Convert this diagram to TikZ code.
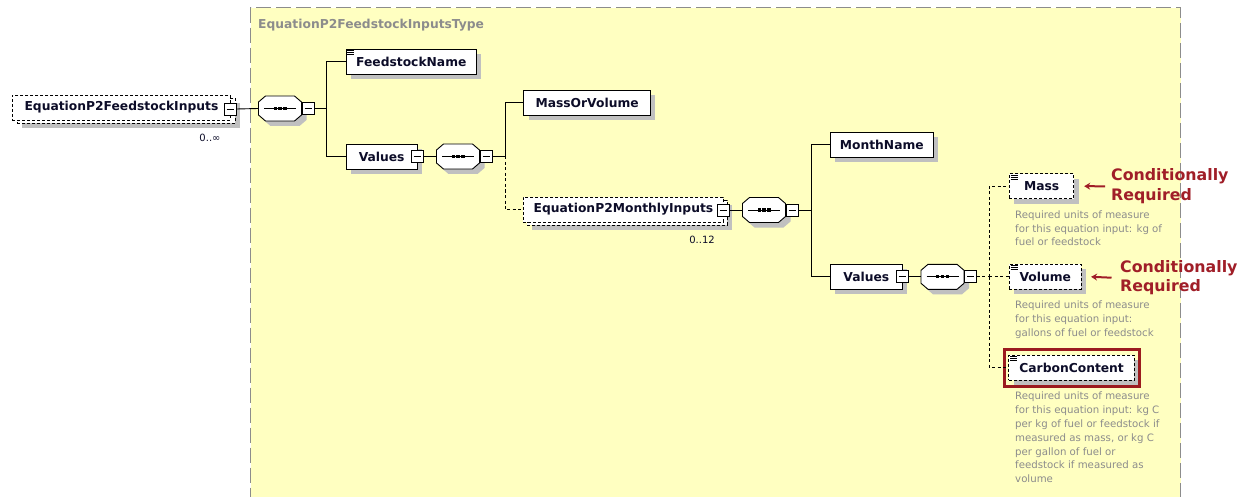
\documentclass[tikz,border=0pt]{standalone}
\usepackage{fontspec}
\setmainfont{DejaVu Sans}
\usetikzlibrary{shadows,arrows.meta}

\definecolor{typefill}{RGB}{255,255,193}
\definecolor{typeedge}{RGB}{140,140,140}
\definecolor{shadowgray}{RGB}{192,192,192}
\definecolor{descgray}{RGB}{140,140,140}
\definecolor{notered}{RGB}{160,30,40}
\definecolor{markred}{RGB}{155,27,31}
\definecolor{ink}{RGB}{12,12,40}

\newcommand\namefont{\bfseries\fontsize{12.3}{14}\selectfont}
\newcommand\descfont{\fontsize{10.2}{13.8}\selectfont}
\newcommand\notefont{\bfseries\fontsize{15.8}{19.5}\selectfont}

\tikzset{
  conn/.style={line width=0.9pt},
  optconn/.style={line width=0.9pt, dash pattern=on 3pt off 2.5pt},
  elem/.style={draw, fill=white, line width=0.9pt, inner sep=0pt,
    minimum height=25pt, anchor=west, font=\namefont, text=ink,
    general shadow={fill=shadowgray, shadow xshift=5pt, shadow yshift=-5pt}},
  optelem/.style={elem, dash pattern=on 3pt off 2pt},
  frontelem/.style={draw, fill=white, line width=0.9pt, inner sep=0pt,
    minimum height=25pt, anchor=west, font=\namefont, text=ink,
    dash pattern=on 3pt off 2pt},
  minusbox/.style={draw, fill=white, line width=0.8pt, minimum size=12pt,
    inner sep=0pt, path picture={\draw[line width=0.8pt]
      ([xshift=2.5pt]path picture bounding box.west) --
      ([xshift=-2.5pt]path picture bounding box.east);}},
  seqnode/.style={rectangle, minimum width=43pt, minimum height=25pt, inner sep=0pt},
  typebox/.style={draw=typeedge, fill=typefill, line width=1.4pt,
    dash pattern=on 15pt off 5pt, anchor=north west, inner sep=0pt},
  typelabel/.style={anchor=west, inner sep=0pt, font=\namefont, text=typeedge},
  desctext/.style={anchor=north west, inner sep=0pt, align=left,
    font=\descfont, text=descgray},
  notetext/.style={anchor=west, inner sep=0pt, align=left,
    font=\notefont, text=notered},
  notearrow/.style={draw=notered, line width=2pt, -{Stealth[length=6pt,width=7pt]}},
  occurs/.style={inner sep=0pt, font=\fontsize{10}{12}\selectfont, text=ink},
}

% sequence compositor: octagon with shadow, dotted bar, and its collapse box
\newcommand\seqsym[3]{%
  \begin{scope}[shift={(#2+5,#3+5)}]
    \fill[shadowgray] (-14.5,-12.5) -- (14.5,-12.5) -- (21.5,-6.5) -- (21.5,6.5)
      -- (14.5,12.5) -- (-14.5,12.5) -- (-21.5,6.5) -- (-21.5,-6.5) -- cycle;
  \end{scope}
  \begin{scope}[shift={(#2,#3)}]
    \draw[fill=white, line width=0.9pt] (-14.5,-12.5) -- (14.5,-12.5) -- (21.5,-6.5)
      -- (21.5,6.5) -- (14.5,12.5) -- (-14.5,12.5) -- (-21.5,6.5) -- (-21.5,-6.5) -- cycle;
    \draw[line width=1pt] (-16,0) -- (16,0);
    \fill (-6.5,-1.6) rectangle (-3.3,1.6);
    \fill (-1.6,-1.6) rectangle (1.6,1.6);
    \fill (3.3,-1.6) rectangle (6.5,1.6);
  \end{scope}
  \node[seqnode] (#1) at (#2,#3) {};
  \node[minusbox] (#1m) at (#2+28,#3) {};
}

% small "simple content" glyph on the upper left corner of an element
\newcommand\simpleicon[1]{%
  \foreach \dy in {2,4,6}
    \draw[line width=0.8pt] ([shift={(1.5,\dy)}]#1.north west) -- ++(7,0);
}

\begin{document}
\begin{tikzpicture}[x=1pt, y=-1pt]
\useasboundingbox (0,0) rectangle (1249,497);
\clip (0,0) rectangle (1249,497);
\fill[white] (0,0) rectangle (1249,497);

% complex type container
\node[typebox, minimum width=930pt, minimum height=520pt] (type) at (250,7) {};
\node[typelabel] (typename) at (258,25) {EquationP2FeedstockInputsType};

% root element (repeating, optional)
\node[optelem, minimum width=218pt, text=white] (rootback) at (17,110.5) {};
\node[frontelem, minimum width=218pt] (root) at (12,107.5) {EquationP2FeedstockInputs};
\node[minusbox] (rootm) at (230,109) {};
\node[occurs] (rootocc) at (210,137.5) {0..∞};

\seqsym{s1}{280}{108.5}
\coordinate (j1) at (326,108.5);

\node[elem, minimum width=130.3pt] (fname) at (345.7,61.5) {FeedstockName};
\simpleicon{fname}
\node[elem, minimum width=71pt] (val1) at (345.7,156.5) {Values\hspace{4pt}};
\node[minusbox] (val1m) at (417,156.5) {};

\seqsym{s2}{458}{156.5}
\coordinate (j2) at (505,156.5);

\node[elem, minimum width=126.7pt] (mov) at (523.3,102.5) {MassOrVolume};

\node[optelem, minimum width=200pt] (monthback) at (527,212.5) {};
\node[frontelem, minimum width=200pt] (month) at (523,209.5) {EquationP2MonthlyInputs\hspace{4pt}};
\node[minusbox] (monthm) at (723,210) {};
\node[occurs] (monthocc) at (702,240) {0..12};

\seqsym{s3}{764}{210}
\coordinate (j3) at (811.5,210);

\node[elem, minimum width=102.7pt] (mname) at (830,144.5) {MonthName};
\node[elem, minimum width=71.7pt] (val2) at (830,276.8) {Values\hspace{4pt}};
\node[minusbox] (val2m) at (902,276.8) {};

\seqsym{s4}{942.5}{276.8}
\coordinate (j4) at (989.3,276.8);

\node[optelem, minimum width=64.3pt] (mass) at (1009,186.2) {Mass};
\simpleicon{mass}
\node[optelem, minimum width=71.7pt] (vol) at (1009,276.8) {Volume};
\simpleicon{vol}
\node[optelem, minimum width=125.7pt] (carbon) at (1008.3,367.5) {CarbonContent};
\simpleicon{carbon}
\node[draw=markred, line width=2.8pt, inner sep=0pt, minimum width=134.4pt,
      minimum height=37pt] (carbonmark) at (1072,367.7) {};

% documentation texts
\node[desctext] (massdoc) at (1015,210.3)
  {Required units of measure\\for this equation input: kg of\\fuel or feedstock};
\node[desctext] (voldoc) at (1015,301)
  {Required units of measure\\for this equation input:\\gallons of fuel or feedstock};
\node[desctext] (carbondoc) at (1015,392)
  {Required units of measure\\for this equation input: kg C\\per kg of fuel or feedstock if\\measured as mass, or kg C\\per gallon of fuel or\\feedstock if measured as\\volume};

% connectors
\draw[conn] (rootm.east) -- (s1.west);
\draw[conn] (s1m.east) -- (j1);
\draw[conn] (j1) |- (fname.west);
\draw[conn] (j1) |- (val1.west);
\draw[conn] (val1m.east) -- (s2.west);
\draw[conn] (s2m.east) -- (j2);
\draw[conn] (j2) |- (mov.west);
\draw[optconn] (j2) |- (month.west);
\draw[conn] (monthm.east) -- (s3.west);
\draw[conn] (s3m.east) -- (j3);
\draw[conn] (j3) |- (mname.west);
\draw[conn] (j3) |- (val2.west);
\draw[conn] (val2m.east) -- (s4.west);
\draw[optconn] (s4m.east) -- (j4);
\draw[optconn] (j4) |- (mass.west);
\draw[optconn] (j4) |- (vol.west);
\draw[optconn] (j4) |- (carbon.west);

% annotations
\node[notetext] (note1) at (1111,186.3) {Conditionally\\Required};
\node[notetext] (note2) at (1120,277.7) {Conditionally\\Required};
\draw[notearrow] ([xshift=-6pt]note1.west) -- ([xshift=10pt]mass.east);
\draw[notearrow] ([xshift=-8.5pt]note2.west) -- ([xshift=9.5pt]vol.east);
\end{tikzpicture}
\end{document}
